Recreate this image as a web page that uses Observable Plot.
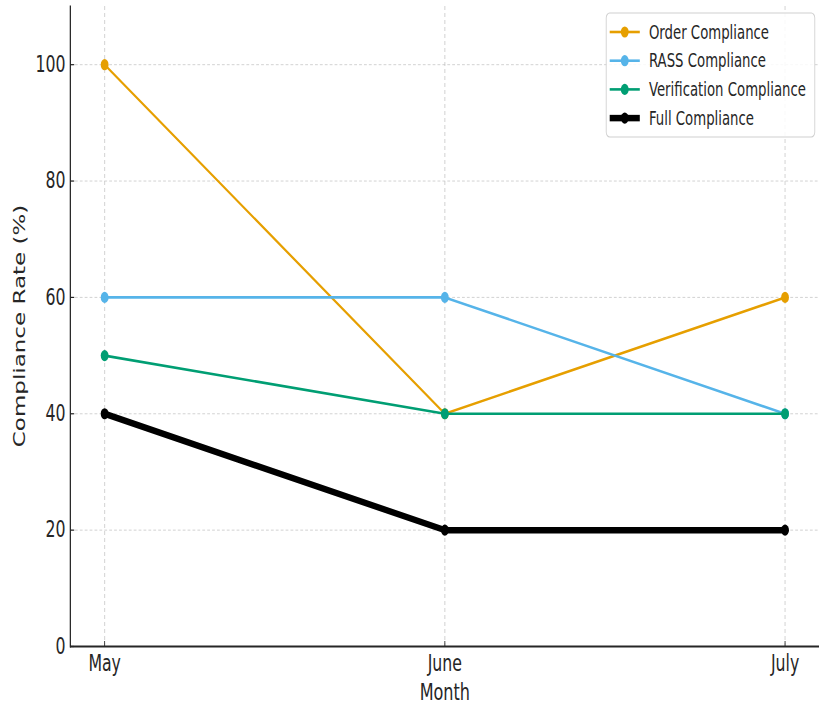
<!DOCTYPE html>
<html>
<head>
<meta charset="utf-8">
<script src="https://cdn.jsdelivr.net/npm/d3@7"></script>
<script src="https://cdn.jsdelivr.net/npm/@observablehq/plot@0.6"></script>
<style>
  html, body { margin: 0; padding: 0; background: #fff; }
  #chart svg { display: block; }
</style>
</head>
<body>
<div id="chart"></div>
<script>
// Monthly compliance rates (%)
const months = ["May", "June", "July"];
const orderCompliance = [100, 40, 60];
const rassCompliance = [60, 60, 40];
const verificationCompliance = [50, 40, 40];
const fullCompliance = [40, 20, 20];
const yTicks = [0, 20, 40, 60, 80, 100];

const seriesNames = ["Order Compliance", "RASS Compliance", "Verification Compliance", "Full Compliance"];
const seriesValues = [orderCompliance, rassCompliance, verificationCompliance, fullCompliance];
const seriesColors = ["#E69F00", "#56B4E9", "#009E73", "#000000"];
const seriesWidths = [2.6, 2.6, 2.6, 6.5];

const series = seriesNames.map((name, i) => ({
  name,
  color: seriesColors[i],
  width: seriesWidths[i],
  rows: months.map((month, j) => ({ month, value: seriesValues[i][j] }))
}));

// The chart is laid out on a wider canvas, then squeezed horizontally to the page width.
const W = 1170, H = 707, outW = 819;
const mL = 100, mR = 0, mT = 6, mB = 61;
const frameW = W - mL - mR, frameH = H - mT - mB;
const ink = "#262626";
const gridStyle = { stroke: "#c4c4c4", strokeOpacity: 1, strokeWidth: 0.9, strokeDasharray: "4,3" };

const marks = [
  Plot.gridY(yTicks, gridStyle),
  Plot.gridX(months, gridStyle),
  Plot.ruleY([0], { stroke: ink, strokeWidth: 1.8 }),
  Plot.frame({ anchor: "left", stroke: ink, strokeWidth: 1.8 }),
  Plot.tickX(months, { x: d => d, insetTop: frameH - 5, stroke: ink, strokeWidth: 1.2 }),
  Plot.tickY(yTicks, { y: d => d, insetRight: frameW - 6, stroke: ink, strokeWidth: 1.2 }),
  Plot.axisY(yTicks, { tickSize: 0, tickPadding: 7, fontSize: 22.5, fill: ink, label: null }),
  Plot.axisX(months, { tickSize: 0, tickPadding: 9, fontSize: 22.5, fill: ink, label: null }),
  Plot.text(["Month"], { frameAnchor: "bottom", dy: 53, text: d => d, fontSize: 23, fill: ink })
];

for (const s of series) {
  marks.push(Plot.line(s.rows, { x: "month", y: "value", stroke: s.color, strokeWidth: s.width, strokeLinejoin: "round", strokeLinecap: "round" }));
  marks.push(Plot.dot(s.rows, { x: "month", y: "value", r: 5.6, fill: s.color, stroke: "none" }));
}

const svg = Plot.plot({
  width: W,
  height: H,
  marginLeft: mL,
  marginRight: mR,
  marginTop: mT,
  marginBottom: mB,
  style: { fontFamily: "DejaVu Sans", fontSize: "21px", color: ink, background: "#fff", overflow: "visible" },
  x: { type: "point", domain: months, padding: 0.1, label: null, axis: null },
  y: { domain: [0, 110], label: null, axis: null },
  marks
});

// Y axis title, centred on the plot frame
d3.select(svg).append("text")
  .attr("transform", `translate(${mL - 73},${mT + frameH / 2}) rotate(-90)`)
  .attr("text-anchor", "middle")
  .attr("dy", "0.35em")
  .attr("font-family", "DejaVu Sans")
  .attr("font-size", 23)
  .attr("fill", ink)
  .text("Compliance Rate (%)");

// Legend box in the upper right corner
const legend = d3.select(svg).append("g")
  .attr("font-family", "DejaVu Sans")
  .attr("font-size", 19)
  .attr("text-anchor", "start");
const lx = 866, ly = 13, lw = 298, lh = 124, rowGap = 28.7, firstRow = 32;
legend.append("rect")
  .attr("x", lx).attr("y", ly).attr("width", lw).attr("height", lh)
  .attr("rx", 5).attr("fill", "#fff").attr("fill-opacity", 0.85)
  .attr("stroke", "#cfcfcf").attr("stroke-width", 1.2);
series.forEach((s, i) => {
  const y = firstRow + i * rowGap;
  const g = legend.append("g");
  g.append("line").attr("x1", 871).attr("x2", 914).attr("y1", y).attr("y2", y)
    .attr("stroke", s.color).attr("stroke-width", s.width).attr("stroke-linecap", "butt");
  g.append("circle").attr("cx", 892.5).attr("cy", y).attr("r", 5.6).attr("fill", s.color);
  g.append("text").attr("x", 927).attr("y", y).attr("dy", "0.35em").attr("fill", ink).text(s.name);
});

svg.setAttribute("viewBox", `0 0 ${W} ${H}`);
svg.setAttribute("preserveAspectRatio", "none");
svg.setAttribute("width", outW);
svg.setAttribute("height", H);
svg.style.width = outW + "px";
svg.style.height = H + "px";
svg.style.maxWidth = "none";
document.getElementById("chart").appendChild(svg);
</script>
</body>
</html>
